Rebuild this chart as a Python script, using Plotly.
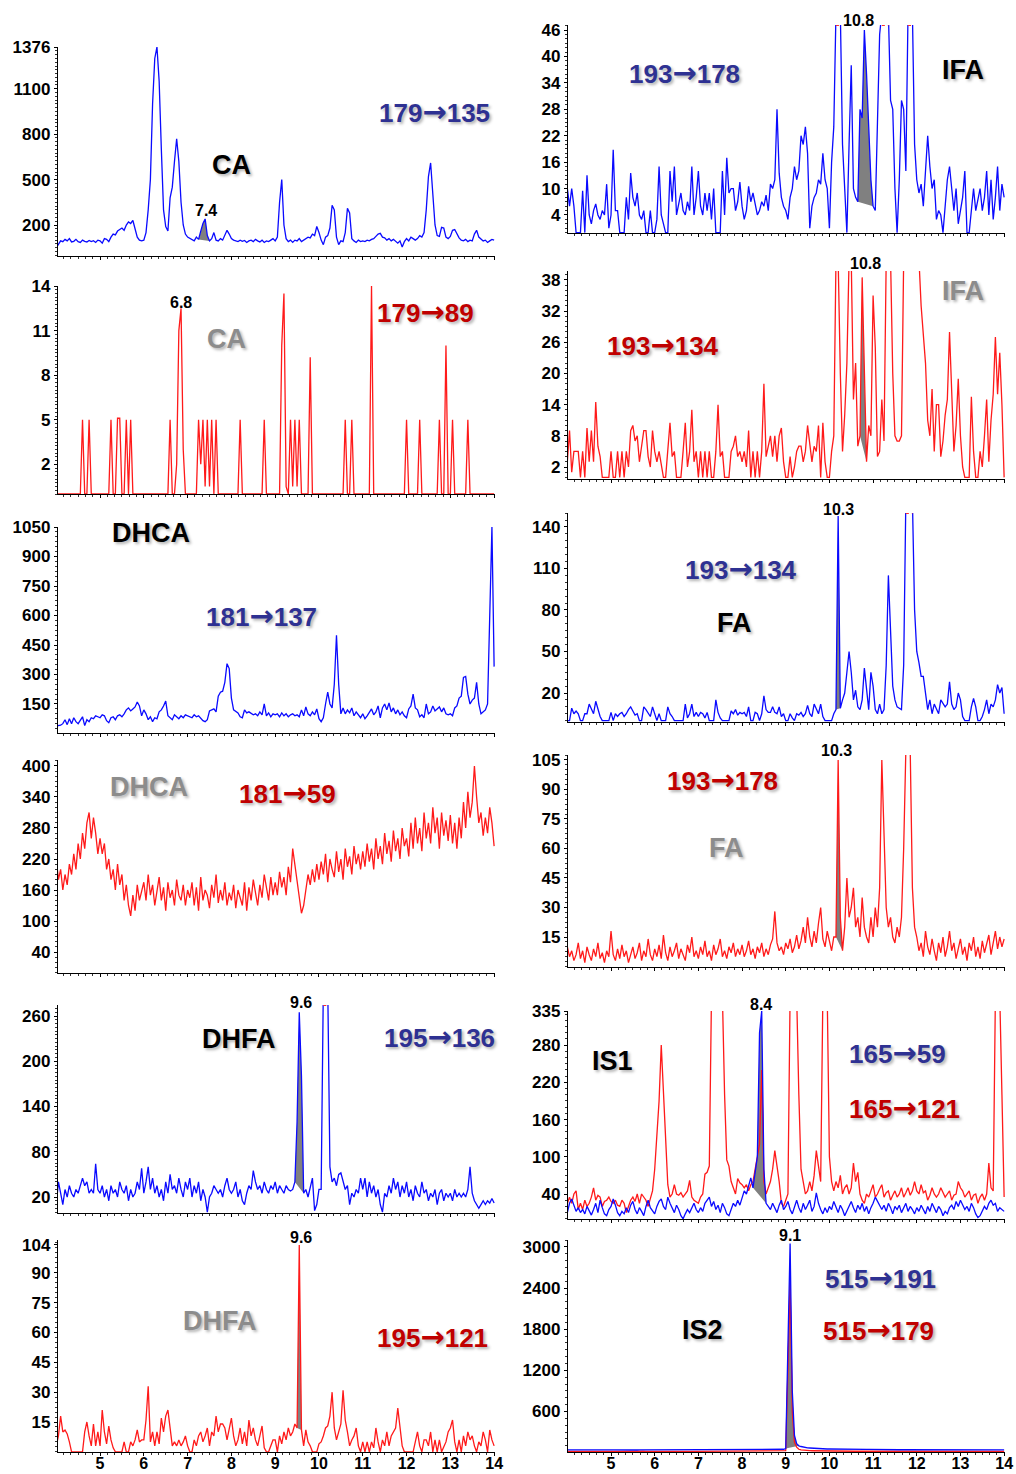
import numpy as np
import plotly.graph_objects as go

# ---------------- DATA ----------------
# retention time grid (min), 0.05 min sampling, 4.00 ... 14.00 (201 points)
time_min = np.round(np.arange(4.0, 14.0001, 0.05), 2)

# CA 179->135 (blue)
ca_179_135 = [
    50, 75, 95, 90, 105, 95, 110, 88, 92, 105, 90, 85, 100, 92, 88, 98, 90, 96, 85, 100,
    95, 80, 110, 105, 90, 120, 140, 135, 160, 170, 180, 165, 200, 220, 210, 230, 180, 120, 100, 95,
    100, 150, 300, 500, 1000, 1300, 1376, 1150, 700, 300, 190, 160, 380, 450, 620, 770, 620, 350, 200, 140,
    120, 110, 100, 95, 120, 105, 160, 210, 240, 130, 95, 110, 150, 100, 95, 110, 100, 130, 165, 140,
    110, 100, 95, 90, 100, 92, 98, 85, 95, 100, 90, 105, 95, 88, 100, 85, 95, 90, 100, 110,
    95, 120, 350, 500, 200, 110, 90, 100, 85, 100, 95, 110, 90, 100, 105, 120, 115, 140, 130, 190,
    150, 100, 70, 120, 130, 180, 330, 300, 120, 70, 95, 90, 150, 310, 280, 110, 95, 85, 100, 90,
    95, 90, 100, 95, 105, 110, 125, 140, 145, 120, 115, 100, 110, 95, 105, 90, 80, 95, 55, 90,
    110, 95, 120, 110, 100, 110, 130, 120, 150, 300, 520, 610, 420, 200, 130, 125, 185, 180, 120, 110,
    125, 165, 170, 140, 115, 100, 95, 105, 90, 100, 95, 140, 165, 120, 110, 95, 100, 85, 95, 105,
    100]

# CA 179->89 (red)
ca_179_89 = [
    0, 0, 0, 0, 0, 0, 0, 0, 0, 0, 0, 0, 5, 0, 0, 5, 0, 0, 0, 0,
    0, 0, 0, 0, 0, 5, 0, 0, 5.1, 5.1, 0, 0, 5, 0, 5, 0, 0, 0, 0, 0,
    0, 0, 0, 0, 0, 0, 0, 0, 0, 0, 0, 0, 5, 0, 0, 2, 11, 12.5, 3, 0,
    0, 0, 0, 0, 0, 5, 2, 5, 0.5, 5, 0.5, 5, 0, 5, 0, 0, 0, 0, 0, 0,
    0, 0, 0, 0, 5, 0, 0, 0, 0, 0, 0, 0, 0, 0, 0, 5, 0, 0, 0, 0,
    0, 0, 0, 10, 13.5, 0.5, 0, 5, 0.5, 5, 0.5, 5, 0, 0, 0, 0, 9.2, 0, 0, 0,
    0, 0, 0, 0, 0, 0, 0, 0, 0, 0, 0, 0, 5, 0, 0, 5, 0, 0, 0, 0,
    0, 0, 0, 0, 14, 0, 0, 0, 0, 0, 0, 0, 0, 0, 0, 0, 0, 0, 0, 0,
    5, 0, 0, 0, 0, 0, 5, 0, 0, 0, 0, 0, 0, 0, 0, 5, 0, 0, 10, 0,
    0, 5, 0, 0, 0, 0, 0, 0, 5, 0, 0, 0, 0, 0, 0, 0, 0, 0, 0, 0,
    0]

# DHCA 181->137 (blue)
dhca_181_137 = [
    45, 40, 42, 50, 70, 45, 75, 50, 80, 60, 50, 70, 85, 40, 70, 60, 80, 75, 90, 85,
    80, 95, 90, 65, 55, 80, 85, 70, 90, 95, 85, 100, 120, 130, 115, 125, 135, 160, 140, 90,
    120, 100, 70, 85, 60, 80, 75, 110, 120, 140, 165, 90, 80, 70, 95, 85, 75, 90, 80, 95,
    90, 85, 80, 95, 85, 90, 75, 65, 60, 70, 115, 120, 125, 110, 190, 210, 215, 260, 355, 330,
    180, 120, 110, 105, 85, 80, 120, 105, 110, 100, 95, 100, 90, 110, 95, 150, 90, 105, 85, 100,
    95, 100, 85, 105, 90, 100, 85, 95, 100, 90, 95, 85, 120, 90, 135, 100, 90, 110, 95, 125,
    75, 60, 80, 150, 210, 150, 130, 250, 500, 250, 100, 130, 100, 120, 105, 130, 90, 110, 95, 80,
    100, 75, 90, 110, 125, 95, 110, 140, 80, 130, 150, 120, 155, 110, 130, 100, 120, 95, 110, 90,
    80, 125, 140, 200, 130, 120, 85, 95, 80, 150, 100, 110, 140, 115, 125, 135, 110, 130, 100, 95,
    100, 90, 130, 140, 180, 190, 285, 290, 200, 150, 170, 180, 260, 150, 100, 110, 120, 150, 650, 1050,
    340]

# DHCA 181->59 (red)
dhca_181_59 = [
    220, 180, 200, 160, 190, 170, 210, 190, 230, 200, 250, 220, 270, 240, 290, 310, 260, 300, 270, 230,
    260, 230, 250, 200, 220, 180, 200, 160, 210, 170, 190, 140, 170, 130, 110, 150, 120, 170, 140, 160,
    175, 140, 190, 150, 170, 130, 160, 185, 140, 165, 120, 175, 145, 160, 130, 180, 150, 140, 170, 130,
    160, 145, 175, 130, 165, 120, 185, 140, 160, 150, 125, 170, 145, 190, 135, 160, 140, 175, 130, 155,
    140, 170, 125, 160, 145, 130, 175, 120, 165, 140, 180, 150, 130, 170, 145, 190, 160, 140, 185, 150,
    175, 150, 195, 165, 185, 150, 205, 175, 240, 210, 170, 140, 115, 130, 160, 190, 170, 200, 175, 210,
    180, 215, 190, 230, 175, 220, 200, 185, 235, 195, 220, 180, 240, 205, 225, 190, 245, 210, 230, 200,
    235, 205, 250, 215, 240, 200, 260, 220, 245, 210, 270, 230, 255, 215, 275, 235, 260, 220, 280, 245,
    260, 225, 290, 240, 300, 250, 280, 235, 310, 260, 290, 250, 320, 270, 300, 240, 310, 265, 295, 255,
    305, 250, 290, 240, 300, 260, 330, 280, 350, 300, 330, 400, 340, 290, 310, 265, 300, 270, 320, 290,
    245]

# DHFA 195->136 (blue)
dhfa_195_136 = [
    10, 40, 25, 10, 30, 20, 35, 25, 20, 30, 25, 35, 45, 35, 40, 25, 30, 25, 64, 30,
    25, 35, 20, 30, 15, 35, 25, 30, 20, 40, 30, 25, 35, 15, 30, 20, 25, 40, 30, 58,
    25, 40, 60, 30, 45, 25, 35, 20, 30, 15, 40, 25, 50, 30, 35, 25, 45, 30, 20, 40,
    30, 45, 20, 35, 25, 40, 15, 30, 20, 0, 20, 25, 35, 30, 25, 30, 20, 35, 45, 30,
    25, 30, 40, 20, 30, 15, 10, 25, 35, 30, 55, 40, 30, 35, 25, 40, 30, 25, 35, 30,
    40, 25, 35, 30, 25, 35, 30, 28, 30, 40, 120, 265, 180, 25, 30, 20, 35, 45, 2, 10,
    30, 30, 300, 320, 300, 60, 40, 45, 35, 50, 52, 40, 30, 35, 10, 25, 20, 30, 25, 45,
    30, 45, 20, 40, 25, 35, 20, 30, 10, 0, 25, 20, 35, 25, 45, 30, 40, 20, 35, 25,
    40, 20, 30, 15, 35, 25, 20, 40, 25, 30, 15, 25, 20, 30, 10, 25, 30, 15, 25, 20,
    25, 15, 30, 20, 25, 20, 25, 20, 30, 60, 25, 15, 10, 5, 10, 15, 10, 15, 12, 18,
    12]

# DHFA 195->121 (red)
dhfa_195_121 = [
    3, 8, 18, 10, 11, 9, 5, 0, 0, 0, 0, 0, 0, 10, 15, 8, 3, 14, 3, 10,
    3, 21, 10, 4, 13, 6, 2, 0, 0, 0, 0, 5, 0, 0, 5, 3, 6, 11, 5, 6,
    6, 16, 33, 5, 10, 3, 10, 4, 17, 10, 18, 21, 12, 3, 5, 3, 6, 3, 5, 8,
    3, 0, 0, 6, 3, 8, 10, 5, 8, 12, 3, 10, 8, 18, 10, 14, 14, 12, 6, 12,
    17, 8, 3, 6, 12, 4, 10, 3, 16, 8, 12, 6, 3, 8, 13, 2, 0, 0, 3, 6,
    6, 0, 8, 4, 10, 6, 12, 8, 10, 14, 12, 104, 11, 3, 11, 5, 3, 0, 0, 0,
    4, 5, 8, 12, 13, 18, 30, 12, 6, 10, 14, 31, 16, 10, 3, 6, 8, 12, 3, 0,
    5, 0, 5, 0, 5, 2, 12, 5, 0, 6, 3, 10, 3, 8, 10, 12, 22, 12, 3, 0,
    0, 0, 0, 0, 5, 10, 3, 0, 6, 6, 3, 10, 0, 6, 0, 6, 0, 3, 5, 10,
    12, 16, 5, 0, 6, 0, 8, 3, 10, 6, 8, 3, 0, 5, 3, 10, 6, 0, 11, 6,
    3]

# IFA 193->178 (blue)
ifa_193_178 = [
    10, 6, 10, 6, 0, 0, 0, 9.5, 0, 13, 4, 2, 5, 6.5, 4, 3, 5, 4, 11, 1,
    4, 18.8, 5, 5, 0, 0, 0, 8, 3, 13.5, 8, 6, 9, 4, 3, 5, 0, 0, 5, 0,
    0, 3, 15, 4, 2, 0, 0, 14, 7, 15, 4, 7, 9, 5, 4, 7, 5, 15, 4, 8,
    14, 6, 4, 9, 5, 9, 3, 10, 0, 0, 0, 14, 4, 17, 9, 10, 10, 5, 7, 11.5,
    6, 3, 5, 10.5, 7, 9, 6, 4, 5, 7, 6, 8.5, 5, 11, 10, 12, 28, 13.5, 8, 6,
    5, 3, 8, 10, 15, 12, 14, 22, 20, 24, 18, 1, 6, 8, 9, 12, 11, 18, 12, 10,
    1, 16, 24, 50, 50, 50, 20, 8, 0, 20, 38, 10, 8, 7, 28, 26, 46, 36, 22, 12,
    6, 5, 25, 45, 50, 50, 50, 50, 30, 28, 10, 0, 12, 30, 28, 14, 50, 50, 50, 20,
    12, 9, 11, 6, 14, 22, 15, 10, 12, 3, 5, 4, 0, 6, 12, 15, 10, 5, 10, 2,
    5, 8, 14, 0, 0, 6, 10, 5, 8, 10, 5, 8, 14, 4, 12, 3, 8, 15, 5, 11,
    8]

# IFA 193->134 (red)
ifa_193_134 = [
    3, 9, 1, 5, 5, 5, 0, 5, 0, 9.5, 3, 9, 3, 14.5, 6, 4, 0, 0, 0, 0,
    5, 0, 0, 5, 0, 5, 0, 5, 2, 9, 10, 7, 8, 3, 6, 9, 9, 4, 2, 9,
    5, 3, 5, 2, 0, 0, 5, 10.5, 4, 5, 0, 0, 0, 5, 10.5, 2, 5, 13, 3, 5,
    0, 5, 0, 5, 0, 5, 0, 0, 5, 14, 4, 5, 0, 0, 0, 5, 6, 8, 4, 5,
    3, 5, 2, 9, 0, 5, 0, 5, 0, 5, 18, 4, 6, 8, 4, 8, 3, 8, 9.5, 3,
    0, 0, 4, 0, 2, 5, 6, 6, 3, 5, 10, 7, 3, 6, 5, 10, 0, 10.5, 3, 0,
    0, 5, 8, 42, 42, 20, 5, 12, 22, 42, 42, 15, 22, 6, 8, 38.5, 20, 3, 10, 8,
    35, 25, 4, 5, 15, 7, 42, 42, 42, 20, 8, 7, 7, 8, 42, 42, 42, 42, 42, 42,
    42, 42, 33, 28, 22, 11, 8, 17, 5, 14, 14, 4, 7, 12, 15, 28, 18, 5, 10, 19,
    8, 2, 0, 0, 0, 15.5, 5, 0, 0, 5, 2, 8, 15, 3, 11, 16, 27, 16, 24, 14,
    0]

# FA 193->134 (blue)
fa_193_134 = [
    0, 0, 9, 5, 7, 5, 0, 0, 5, 5, 12, 9, 5, 14, 8, 3, 0, 0, 0, 0,
    6, 0, 5, 3, 5, 6, 3, 5, 8, 10, 7, 4, 5, 0, 0, 10, 8, 5, 3, 10,
    4, 0, 5, 0, 0, 0, 10, 5, 3, 0, 0, 0, 0, 0, 12, 2, 5, 12, 3, 6,
    3, 6, 5, 2, 6, 0, 0, 0, 15, 6, 2, 0, 0, 0, 0, 7, 5, 8, 4, 6,
    5, 6, 3, 10, 0, 0, 6, 5, 0, 5, 18, 8, 6, 6, 10, 6, 5, 10, 3, 5,
    0, 0, 5, 2, 0, 5, 4, 6, 3, 5, 11, 5, 3, 12, 8, 5, 12, 3, 0, 0,
    0, 0, 5, 8, 148, 9, 15, 20, 35, 50, 35, 15, 22, 10, 8, 15, 38, 20, 8, 35,
    25, 8, 5, 12, 5, 8, 40, 105, 60, 25, 15, 10, 9, 8, 40, 160, 160, 160, 160, 80,
    50, 42, 32, 32, 20, 8, 15, 5, 12, 8, 5, 15, 12, 10, 12, 28, 12, 8, 10, 20,
    15, 3, 0, 0, 0, 10, 16, 10, 0, 0, 3, 8, 15, 5, 12, 10, 15, 26, 20, 24,
    5]

# FA 193->178 (red)
fa_193_178 = [
    10, 5, 8, 3, 6, 12, 4, 8, 2, 10, 6, 3, 9, 5, 12, 4, 7, 2, 8, 5,
    18, 6, 3, 9, 4, 11, 5, 8, 2, 6, 10, 4, 7, 12, 3, 8, 5, 14, 6, 3,
    9, 5, 11, 4, 16, 7, 3, 10, 5, 8, 12, 4, 9, 6, 3, 11, 7, 15, 5, 8,
    4, 10, 6, 13, 5, 8, 3, 11, 6, 9, 14, 5, 8, 4, 10, 7, 12, 5, 9, 6,
    11, 5, 8, 13, 6, 9, 4, 10, 7, 12, 5, 9, 6, 11, 14, 28, 12, 8, 10, 6,
    12, 9, 14, 7, 10, 16, 9, 13, 20, 12, 25, 15, 10, 18, 12, 22, 30, 14, 10, 18,
    12, 8, 15, 15, 105, 25, 8, 20, 45, 25, 30, 40, 20, 25, 15, 35, 20, 15, 12, 25,
    15, 30, 20, 40, 105, 60, 30, 20, 25, 15, 12, 20, 15, 25, 60, 110, 110, 110, 40, 20,
    15, 8, 12, 5, 18, 10, 6, 14, 8, 3, 12, 7, 15, 5, 10, 18, 8, 12, 4, 9,
    14, 6, 10, 3, 12, 8, 15, 5, 10, 4, 13, 7, 11, 16, 6, 12, 18, 9, 15, 10,
    14]

# IS1 165->59 (blue)
is1_165_59 = [
    10, 25, 32, 20, 12, 18, 10, 15, 8, 20, 12, 6, 15, 25, 10, 30, 18, 8, 5, 15,
    20, 32, 22, 10, 5, 12, 8, 18, 10, 22, 28, 15, 8, 18, 12, 5, 20, 30, 18, 12,
    8, 20, 28, 32, 20, 15, 35, 25, 18, 10, 22, 15, 5, 0, 8, 15, 10, 18, 25, 15,
    10, 18, 12, 25, 30, 35, 20, 28, 15, 22, 10, 25, 18, 8, 5, 15, 25, 20, 30, 22,
    35, 45, 40, 55, 66, 50, 75, 100, 300, 335, 80, 25, 20, 15, 25, 18, 10, 22, 30, 15,
    20, 28, 15, 8, 20, 30, 18, 10, 25, 15, 22, 30, 12, 20, 42, 25, 15, 8, 18, 10,
    20, 15, 28, 18, 10, 22, 15, 5, 12, 20, 28, 18, 10, 22, 15, 25, 12, 20, 8, 18,
    25, 35, 28, 20, 15, 22, 12, 25, 18, 8, 20, 15, 22, 10, 18, 25, 12, 20, 15, 8,
    18, 12, 22, 15, 8, 20, 12, 25, 18, 10, 20, 15, 5, 12, 8, 18, 22, 15, 28, 20,
    30, 22, 15, 20, 12, 25, 18, 8, 2, 5, 12, 20, 15, 25, 30, 22, 25, 12, 18, 15,
    12]

# IS1 165->121 (red)
is1_165_121 = [
    25, 35, 25, 40, 45, 15, 25, 15, 30, 20, 25, 35, 50, 30, 38, 35, 20, 28, 30, 35,
    28, 25, 30, 22, 20, 30, 25, 10, 20, 30, 35, 28, 40, 25, 40, 35, 30, 20, 35, 45,
    80, 130, 190, 280, 200, 110, 55, 35, 40, 55, 40, 38, 42, 35, 40, 45, 62, 35, 30, 28,
    25, 35, 40, 72, 75, 85, 360, 360, 360, 360, 360, 360, 200, 95, 85, 60, 50, 40, 65, 58,
    55, 50, 55, 45, 55, 60, 80, 100, 120, 240, 60, 40, 50, 60, 80, 110, 85, 60, 25, 20,
    30, 40, 360, 360, 360, 360, 200, 80, 60, 40, 45, 60, 45, 70, 110, 80, 60, 360, 360, 360,
    100, 60, 45, 60, 50, 70, 40, 50, 55, 40, 50, 90, 60, 75, 40, 30, 25, 40, 35, 45,
    55, 35, 40, 48, 55, 35, 42, 45, 30, 38, 45, 35, 40, 50, 35, 42, 50, 38, 45, 60,
    45, 40, 55, 42, 45, 30, 38, 50, 40, 35, 40, 50, 42, 35, 40, 45, 30, 38, 40, 60,
    50, 45, 35, 40, 45, 30, 38, 40, 25, 35, 40, 30, 40, 90, 50, 45, 360, 360, 360, 200,
    35]

# IS2 515->191 (blue)
is2_515_191 = [
    40, 41, 40, 39, 40, 41, 40, 40, 39, 40, 41, 40, 39, 40, 40, 41, 40, 39, 40, 40,
    40, 41, 40, 39, 40, 41, 40, 40, 39, 40, 41, 40, 39, 40, 40, 41, 40, 39, 40, 40,
    40, 41, 40, 39, 40, 41, 40, 40, 39, 40, 41, 40, 39, 40, 40, 41, 40, 39, 40, 40,
    40, 41, 40, 39, 40, 41, 40, 40, 39, 40, 41, 40, 39, 40, 40, 41, 40, 39, 40, 40,
    40, 41, 40, 39, 40, 41, 40, 40, 39, 40, 41, 40, 39, 40, 40, 41, 40, 42, 45, 50,
    60, 1500, 3050, 900, 250, 130, 100, 90, 80, 75, 70, 68, 65, 62, 60, 58, 56, 55, 55, 54,
    54, 53, 53, 52, 52, 51, 51, 50, 50, 50, 49, 49, 49, 48, 48, 48, 47, 47, 47, 46,
    46, 46, 45, 45, 45, 45, 44, 44, 44, 44, 43, 43, 43, 43, 43, 42, 42, 42, 42, 42,
    42, 42, 41, 41, 41, 41, 41, 41, 41, 40, 40, 40, 40, 40, 40, 40, 40, 40, 40, 40,
    40, 40, 40, 40, 40, 40, 40, 40, 40, 40, 40, 40, 40, 40, 40, 40, 40, 40, 40, 40,
    40]

# IS2 515->179 (red)
is2_515_179 = [
    20, 21, 20, 19, 20, 21, 20, 20, 19, 20, 21, 20, 19, 20, 20, 21, 20, 19, 20, 20,
    20, 21, 20, 19, 20, 21, 20, 20, 19, 20, 21, 20, 19, 20, 20, 21, 20, 19, 20, 20,
    20, 21, 20, 19, 20, 21, 20, 20, 19, 20, 21, 20, 19, 20, 20, 21, 20, 19, 20, 20,
    20, 21, 20, 19, 20, 21, 20, 20, 19, 20, 21, 20, 19, 20, 20, 21, 20, 19, 20, 20,
    20, 21, 20, 19, 20, 21, 20, 20, 19, 20, 21, 20, 19, 20, 20, 21, 20, 20, 22, 25,
    30, 1200, 2480, 600, 150, 80, 50, 40, 35, 32, 30, 29, 28, 27, 26, 26, 25, 25, 24, 24,
    24, 24, 23, 23, 23, 23, 22, 22, 22, 22, 22, 22, 21, 21, 21, 21, 21, 21, 21, 21,
    21, 21, 21, 21, 21, 20, 20, 20, 20, 20, 20, 20, 20, 20, 20, 20, 20, 20, 20, 20,
    20, 20, 20, 20, 20, 20, 20, 20, 20, 20, 20, 20, 20, 20, 20, 20, 20, 20, 20, 20,
    20, 20, 20, 20, 20, 20, 20, 20, 20, 20, 20, 20, 20, 20, 20, 20, 20, 20, 20, 20,
    20]

# y tick labels per panel
yt_ca_135 = [200, 500, 800, 1100, 1376]
yt_ca_89 = [2, 5, 8, 11, 14]
yt_dhca_137 = [150, 300, 450, 600, 750, 900, 1050]
yt_dhca_59 = [40, 100, 160, 220, 280, 340, 400]
yt_dhfa_136 = [20, 80, 140, 200, 260]
yt_dhfa_121 = [15, 30, 45, 60, 75, 90, 104]
yt_ifa_178 = [4, 10, 16, 22, 28, 34, 40, 46]
yt_ifa_134 = [2, 8, 14, 20, 26, 32, 38]
yt_fa_134 = [20, 50, 80, 110, 140]
yt_fa_178 = [15, 30, 45, 60, 75, 90, 105]
yt_is1 = [40, 100, 160, 220, 280, 335]
yt_is2 = [600, 1200, 1800, 2400, 3000]
xt_time = [5, 6, 7, 8, 9, 10, 11, 12, 13, 14]

# ---------------- STYLE / LAYOUT ----------------
W, H = 1016, 1474
BLUE, RED, GREY = "#0a0aff", "#ff1a1a", "#808080"
TXT_BLUE, TXT_RED, TXT_GREY = "#2e3192", "#c00000", "#8c8c8c"
FONT = "Liberation Sans, Arial, sans-serif"
ARROW = "<span style='font-family:DejaVu Sans;font-weight:bold;font-size:29px'>→</span>"
YTICK_SIZE, XTICK_SIZE = 17, 16

for name, arr in [("ca_179_135", ca_179_135), ("ca_179_89", ca_179_89), ("dhca_181_137", dhca_181_137),
                  ("dhca_181_59", dhca_181_59), ("dhfa_195_136", dhfa_195_136), ("dhfa_195_121", dhfa_195_121),
                  ("ifa_193_178", ifa_193_178), ("ifa_193_134", ifa_193_134), ("fa_193_134", fa_193_134),
                  ("fa_193_178", fa_193_178), ("is1_165_59", is1_165_59), ("is1_165_121", is1_165_121),
                  ("is2_515_191", is2_515_191), ("is2_515_179", is2_515_179)]:
    assert len(arr) == len(time_min), (name, len(arr))

panels = [
    dict(col=0, T=47, B=256, yr=[-4.8, 1376], yt=yt_ca_135, mdt=25, traces=[(ca_179_135, BLUE)], area=(ca_179_135, 7.25, 7.50)),
    dict(col=0, T=286, B=494, yr=[0, 14], yt=yt_ca_89, mdt=0.25, traces=[(ca_179_89, RED)], area=None),
    dict(col=0, T=527, B=733, yr=[2.5, 1050], yt=yt_dhca_137, mdt=25, traces=[(dhca_181_137, BLUE)], area=None),
    dict(col=0, T=760, B=973, yr=[-0.65, 411.6], yt=yt_dhca_59, mdt=10, traces=[(dhca_181_59, RED)], area=None),
    dict(col=0, T=1005, B=1213, yr=[-1.2, 274.6], yt=yt_dhfa_136, mdt=5, traces=[(dhfa_195_136, BLUE)], area=(dhfa_195_136, 9.45, 9.65)),
    dict(col=0, T=1240, B=1452, yr=[-0.08, 106.5], yt=yt_dhfa_121, mdt=2.5, traces=[(dhfa_195_121, RED)], area=(dhfa_195_121, 9.50, 9.60)),
    dict(col=1, T=25, B=233, yr=[-0.09, 47.14], yt=yt_ifa_178, mdt=1, traces=[(ifa_193_178, BLUE)], area=(ifa_193_178, 10.65, 11.00)),
    dict(col=1, T=271, B=479, yr=[-0.31, 39.73], yt=yt_ifa_134, mdt=1, traces=[(ifa_193_134, RED)], area=(ifa_193_134, 10.70, 10.85)),
    dict(col=1, T=513, B=722, yr=[-0.96, 150.1], yt=yt_fa_134, mdt=5, traces=[(fa_193_134, BLUE)], area=(fa_193_134, 10.15, 10.25)),
    dict(col=1, T=755, B=967, yr=[-0.25, 107.5], yt=yt_fa_178, mdt=2.5, traces=[(fa_193_178, RED)], area=(fa_193_178, 10.15, 10.30)),
    dict(col=1, T=1011, B=1219, yr=[-0.3, 335], yt=yt_is1, mdt=10, traces=[(is1_165_121, RED), (is1_165_59, BLUE)], area=(is1_165_59, 8.25, 8.55)),
    dict(col=1, T=1240, B=1452, yr=[10, 3100], yt=yt_is2, mdt=100, traces=[(is2_515_179, RED), (is2_515_191, BLUE)], area=(is2_515_191, 9.00, 9.30)),
]

XDOM = {0: [58 / W, 495 / W], 1: [568 / W, 1005 / W]}
XRANGE = {0: [4.04, 14.02], 1: [4.015, 14.02]}
BOTTOM_T = 1240

fig = go.Figure()
t = time_min
for i, p in enumerate(panels, start=1):
    xa, ya = f"x{i}", f"y{i}"
    if p["area"] is not None:
        arr, t0, t1 = p["area"]
        arr = np.asarray(arr, dtype=float)
        m = (t >= t0 - 1e-9) & (t <= t1 + 1e-9)
        fig.add_trace(go.Scatter(x=t[m], y=arr[m], mode="lines", fill="toself", fillcolor=GREY,
                                 line=dict(width=0, color=GREY), xaxis=xa, yaxis=ya,
                                 hoverinfo="skip", showlegend=False))
    for arr, col in p["traces"]:
        fig.add_trace(go.Scatter(x=t, y=arr, mode="lines", line=dict(color=col, width=1.3),
                                 xaxis=xa, yaxis=ya, showlegend=False))
    # saturation marks: red dotted segment where a blue trace runs over the top of its axis
    for arr, col in p["traces"]:
        if col != BLUE:
            continue
        a = np.asarray(arr, dtype=float)
        top = p["yr"][1]
        if np.any(a > top):
            ys = [top if v > top else None for v in a]
            fig.add_trace(go.Scatter(x=t, y=ys, mode="lines", connectgaps=False,
                                     line=dict(color="#ff3030", width=2, dash="dot"),
                                     xaxis=xa, yaxis=ya, showlegend=False, hoverinfo="skip"))
    ydom = [1 - p["B"] / H, 1 - p["T"] / H]
    is_bottom = p["T"] == BOTTOM_T
    xkey = "xaxis" if i == 1 else f"xaxis{i}"
    ykey = "yaxis" if i == 1 else f"yaxis{i}"
    fig.layout[xkey] = dict(
        domain=XDOM[p["col"]], range=XRANGE[p["col"]], anchor=ya, automargin=False,
        showline=True, linecolor="black", linewidth=1.3, mirror=False,
        showgrid=False, zeroline=False,
        ticks="outside", ticklen=3, tickcolor="black", tickvals=xt_time,
        showticklabels=is_bottom, ticklabelstandoff=-6,
        tickfont=dict(family=FONT, size=XTICK_SIZE, color="black", weight="bold"),
        minor=dict(ticks="outside", ticklen=2, tickcolor="#333", dtick=1 / 6, tick0=4, showgrid=False),
    )
    fig.layout[ykey] = dict(
        domain=ydom, range=p["yr"], anchor=xa, automargin=False,
        showline=True, linecolor="black", linewidth=1.3,
        showgrid=False, zeroline=False,
        ticks="outside", ticklen=3, tickcolor="black", tickvals=p["yt"],
        tickfont=dict(family=FONT, size=YTICK_SIZE, color="black", weight="bold"),
        minor=dict(ticks="outside", ticklen=2, tickcolor="#333", dtick=p["mdt"], showgrid=False),
    )

# text labels: (text, colour, size, x_px, y_px)
SZ_T, SZ_C, SZ_P = 26, 27, 16
labels = [
    ("179|135", TXT_BLUE, SZ_T, 434, 112), ("CA", "black", SZ_C, 231, 165), ("7.4", "black", SZ_P, 206, 210),
    ("6.8", "black", SZ_P, 181, 302), ("CA", TXT_GREY, SZ_C, 226, 339), ("179|89", TXT_RED, SZ_T, 425, 312),
    ("DHCA", "black", SZ_C, 151, 533), ("181|137", TXT_BLUE, SZ_T, 261, 616),
    ("DHCA", TXT_GREY, SZ_C, 149, 787), ("181|59", TXT_RED, SZ_T, 287, 793),
    ("9.6", "black", SZ_P, 301, 1002), ("DHFA", "black", SZ_C, 239, 1039), ("195|136", TXT_BLUE, SZ_T, 439, 1037),
    ("9.6", "black", SZ_P, 301, 1237), ("DHFA", TXT_GREY, SZ_C, 220, 1321), ("195|121", TXT_RED, SZ_T, 432, 1337),
    ("10.8", "black", SZ_P, 858, 20), ("193|178", TXT_BLUE, SZ_T, 684, 73), ("IFA", "black", SZ_C, 963, 70),
    ("10.8", "black", SZ_P, 865, 264), ("IFA", TXT_GREY, SZ_C, 963, 291), ("193|134", TXT_RED, SZ_T, 663, 345),
    ("10.3", "black", SZ_P, 838, 510), ("193|134", TXT_BLUE, SZ_T, 741, 569), ("FA", "black", SZ_C, 734, 623),
    ("10.3", "black", SZ_P, 836, 750), ("193|178", TXT_RED, SZ_T, 722, 780), ("FA", TXT_GREY, SZ_C, 726, 848),
    ("8.4", "black", SZ_P, 761, 1005), ("IS1", "black", SZ_C, 612, 1061),
    ("165|59", TXT_BLUE, SZ_T, 897, 1053), ("165|121", TXT_RED, SZ_T, 904, 1108),
    ("9.1", "black", SZ_P, 790, 1235), ("515|191", TXT_BLUE, SZ_T, 880, 1278),
    ("IS2", "black", SZ_C, 702, 1330), ("515|179", TXT_RED, SZ_T, 878, 1330),
]
for text, col, size, px, py in labels:
    big = size >= 20
    fig.add_annotation(
        text=text.replace("|", ARROW), x=px / W, y=1 - py / H, xref="paper", yref="paper",
        xanchor="center", yanchor="middle", showarrow=False,
        font=dict(family=FONT, size=size, color=col, weight="bold",
                  shadow="2px 2px 3px rgba(0,0,0,0.3)" if big else "none"),
    )

fig.update_layout(
    template="none",
    width=W, height=H, margin=dict(l=0, r=0, t=0, b=0, autoexpand=False),
    paper_bgcolor="white", plot_bgcolor="white", showlegend=False,
)
fig.write_html("out.html", config={"displayModeBar": False},
               post_script="document.body.style.margin='0px';document.body.style.padding='0px';")
